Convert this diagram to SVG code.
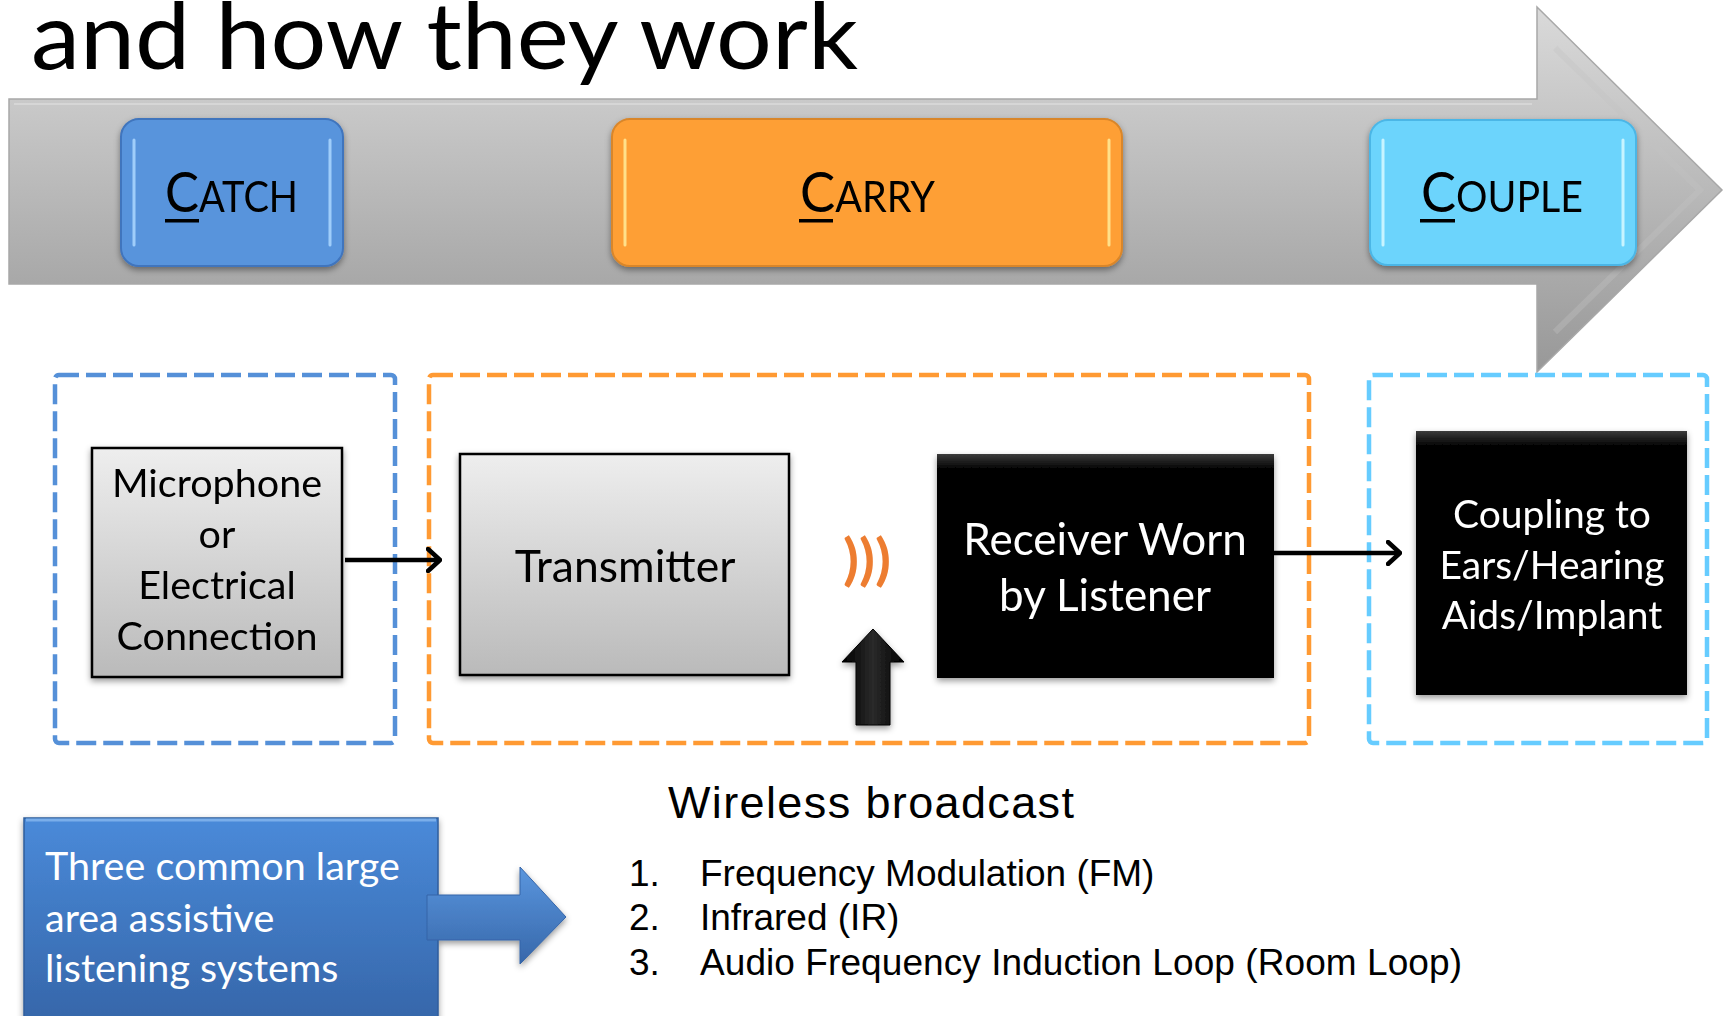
<svg xmlns="http://www.w3.org/2000/svg" width="1725" height="1016" viewBox="0 0 1725 1016">
<defs>
<style>
.cal{font-family:Lato,"Open Sans","Liberation Sans",sans-serif}
.ar{font-family:"Liberation Sans",Arial,sans-serif}
.dash{fill:none;stroke-width:4.5;stroke-dasharray:20 7}
.gbox{fill:url(#gGray);stroke:#000;stroke-width:2.5}
.wt{fill:#fff;text-anchor:middle}
.bt{fill:#000;text-anchor:middle}
.conn{stroke:#000;stroke-width:4.5;fill:none}
.hl{fill:none;stroke-width:3;stroke-linecap:round}
</style>
<linearGradient id="gArrow" x1="0" y1="7" x2="0" y2="372" gradientUnits="userSpaceOnUse">
<stop offset="0" stop-color="#dadada"/><stop offset="1" stop-color="#989898"/>
</linearGradient>
<linearGradient id="gGray" x1="0" y1="0" x2="0" y2="1">
<stop offset="0" stop-color="#eeeeee"/><stop offset="1" stop-color="#bababa"/>
</linearGradient>
<linearGradient id="gBlack" x1="0" y1="0" x2="0" y2="1">
<stop offset="0" stop-color="#3c3c3c"/><stop offset="1" stop-color="#050505"/>
</linearGradient>
<linearGradient id="gBlue" x1="0" y1="0" x2="0" y2="1">
<stop offset="0" stop-color="#4a8ad9"/><stop offset="1" stop-color="#3565a8"/>
</linearGradient>
<linearGradient id="gBlueArr" x1="0" y1="0" x2="0" y2="1">
<stop offset="0" stop-color="#5a96de"/><stop offset="1" stop-color="#3767aa"/>
</linearGradient>
<linearGradient id="gUp" x1="0" y1="0" x2="1" y2="0">
<stop offset="0" stop-color="#000"/><stop offset="0.5" stop-color="#2a2a2a"/><stop offset="1" stop-color="#000"/>
</linearGradient>
<filter id="sh" x="-10%" y="-10%" width="120%" height="130%">
<feDropShadow dx="0" dy="3" stdDeviation="3" flood-color="#000" flood-opacity="0.4"/>
</filter>
<marker id="chev" viewBox="0 0 16 26" refX="14" refY="13" markerWidth="16" markerHeight="26" markerUnits="userSpaceOnUse" orient="auto">
<path d="M2,2 L14,13 L2,24" fill="none" stroke="#000" stroke-width="4.5" stroke-linecap="round" stroke-linejoin="round"/>
</marker>
</defs>
<rect width="1725" height="1016" fill="#fff"/>

<g id="title">
<text class="cal" x="31" y="69" font-size="94" textLength="827" lengthAdjust="spacingAndGlyphs" fill="#000">and how they work</text>
</g>

<g id="process-arrow">
<path d="M9,99 H1537 V7 L1722,190 L1537,372 V284 H9 Z" fill="url(#gArrow)" stroke="#a8a8a8" stroke-width="1.5"/>
<path d="M14,104 H1532" stroke="#d6d6d6" stroke-width="2" fill="none"/>
<path d="M1555,48 L1700,190 L1555,332" stroke="#c4c4c4" stroke-width="6" fill="none" opacity="0.35"/>
</g>

<g id="catch-label" filter="url(#sh)">
<rect x="121" y="119" width="222" height="147" rx="18" fill="#5894dc" stroke="#3f74bd" stroke-width="2"/>
<path class="hl" d="M134,140 V245 M330,140 V245" stroke="#9fcdfa"/>
<text class="cal" x="165" y="212" textLength="133" lengthAdjust="spacingAndGlyphs" fill="#000"><tspan font-size="56">C</tspan><tspan font-size="42">ATCH</tspan></text>
<rect x="165" y="219" width="34" height="3.5" fill="#000"/>
</g>

<g id="carry-label" filter="url(#sh)">
<rect x="612" y="119" width="510" height="147" rx="18" fill="#fe9f35" stroke="#d9862a" stroke-width="2"/>
<path class="hl" d="M625,140 V245 M1109,140 V245" stroke="#ffe08a"/>
<text class="cal" x="800" y="212" textLength="135" lengthAdjust="spacingAndGlyphs" fill="#000"><tspan font-size="56">C</tspan><tspan font-size="42">ARRY</tspan></text>
<rect x="799" y="219" width="34" height="3.5" fill="#000"/>
</g>

<g id="couple-label" filter="url(#sh)">
<rect x="1370" y="120" width="266" height="145" rx="18" fill="#6cd4fc" stroke="#4bb6e6" stroke-width="2"/>
<path class="hl" d="M1383,140 V245 M1623,140 V245" stroke="#c8f4ff"/>
<text class="cal" x="1421" y="212" textLength="162" lengthAdjust="spacingAndGlyphs" fill="#000"><tspan font-size="56">C</tspan><tspan font-size="42">OUPLE</tspan></text>
<rect x="1420" y="219" width="35" height="3.5" fill="#000"/>
</g>

<g id="catch-group">
<rect class="dash" x="55" y="375" width="340" height="368" rx="4" stroke="#5590d8"/>
</g>
<g id="carry-group">
<rect class="dash" x="429" y="375" width="880" height="368" rx="4" stroke="#ff9a33"/>
</g>
<g id="couple-group">
<rect class="dash" x="1369" y="375" width="338" height="368" rx="4" stroke="#66ccff"/>
</g>

<g id="microphone" filter="url(#sh)">
<rect class="gbox" x="92" y="448" width="250" height="229"/>
<text class="cal bt" font-size="39.5"><tspan x="217" y="497">Microphone</tspan><tspan x="217" y="548">or</tspan><tspan x="217" y="599">Electrical</tspan><tspan x="217" y="650">Connection</tspan></text>
</g>

<g id="transmitter" filter="url(#sh)">
<rect class="gbox" x="460" y="454" width="329" height="221"/>
<text class="cal bt" x="625" y="582" font-size="44.5">Transmitter</text>
</g>

<g id="waves">
<text class="cal" x="843" y="579" font-size="56" font-weight="bold" textLength="48" lengthAdjust="spacingAndGlyphs" fill="#ed7d31">)))</text>
</g>

<g id="broadcast-arrow" filter="url(#sh)">
<path d="M873,629 L904,662 L890,662 L890,725 L856,725 L856,662 L842,662 Z" fill="url(#gUp)" stroke="#000" stroke-width="1"/>
</g>

<g id="receiver" filter="url(#sh)">
<rect x="937" y="454" width="337" height="224" fill="#050505"/>
<rect x="937" y="454" width="337" height="14" fill="url(#gBlack)"/>
<text class="cal wt" font-size="44"><tspan x="1105" y="555">Receiver Worn</tspan><tspan x="1105" y="611">by Listener</tspan></text>
</g>

<g id="coupling" filter="url(#sh)">
<rect x="1416" y="431" width="271" height="264" fill="#050505"/>
<rect x="1416" y="431" width="271" height="14" fill="url(#gBlack)"/>
<text class="cal wt" font-size="39"><tspan x="1552" y="528">Coupling to</tspan><tspan x="1552" y="579">Ears/Hearing</tspan><tspan x="1552" y="629">Aids/Implant</tspan></text>
</g>

<g id="connectors">
<line class="conn" x1="345" y1="560" x2="440" y2="560" marker-end="url(#chev)"/>
<line class="conn" x1="1274" y1="553" x2="1400" y2="553" marker-end="url(#chev)"/>
</g>

<g id="systems-box">
<g filter="url(#sh)">
<rect x="24" y="818" width="414" height="210" fill="url(#gBlue)" stroke="#2f5d9c" stroke-width="1.5"/>
<path d="M26,820 H436" stroke="#7aaeea" stroke-width="3"/>
<path d="M427,895 H520 V867 L566,917 L520,964 V940 H427 Z" fill="url(#gBlueArr)" stroke="#3565a8" stroke-width="1"/>
</g>
<text class="cal" font-size="39.5" fill="#fff"><tspan x="45" y="880">Three common large</tspan><tspan x="45" y="932">area assistive</tspan><tspan x="45" y="982">listening systems</tspan></text>
</g>

<g id="systems-list">
<text class="ar" x="668" y="818" font-size="45" textLength="406" fill="#000">Wireless broadcast</text>
<text class="ar" font-size="37" fill="#000"><tspan x="629" y="886">1.</tspan><tspan x="700" y="886">Frequency Modulation (FM)</tspan><tspan x="629" y="930">2.</tspan><tspan x="700" y="930">Infrared (IR)</tspan><tspan x="629" y="975">3.</tspan><tspan x="700" y="975" textLength="762">Audio Frequency Induction Loop (Room Loop)</tspan></text>
</g>
</svg>
